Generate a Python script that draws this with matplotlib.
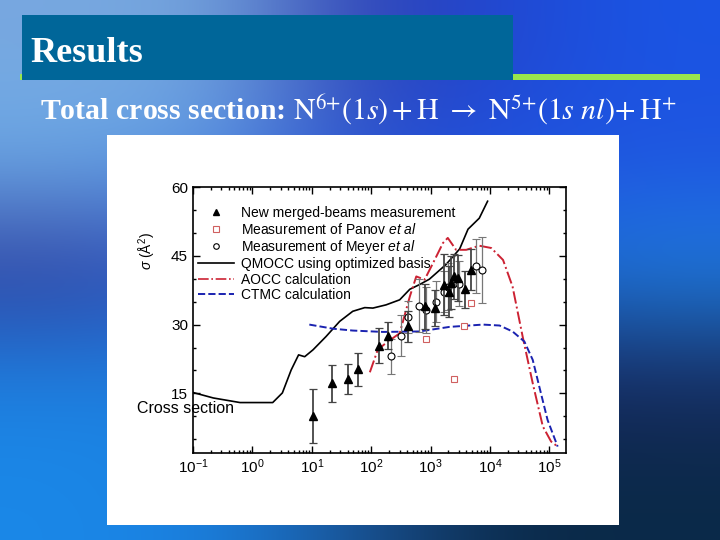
import matplotlib.pyplot as plt
from matplotlib.patches import Rectangle
from matplotlib.lines import Line2D
from matplotlib.ticker import MultipleLocator, FixedLocator, LogLocator, NullFormatter
import numpy as np

plt.rcParams['font.family'] = ['Liberation Sans', 'DejaVu Sans']
plt.rcParams['mathtext.fontset'] = 'custom'
plt.rcParams['mathtext.rm'] = 'Liberation Sans'
plt.rcParams['mathtext.it'] = 'Liberation Sans:italic'

# QMOCC using optimized basis
qmocc_e = [0.1, 0.22, 0.62, 1.0, 2.2, 3.2, 4.5, 6.0, 7.6, 10.5, 17.4, 29.5, 49, 78, 107,
           178, 302, 447, 646, 955, 1820, 3090, 4270, 6610, 9120]
qmocc_s = [15.2, 14.0, 13.0, 13.0, 13.0, 15.1, 20.1, 23.4, 23.0, 24.5, 27.4, 30.7, 32.9, 33.7, 33.6,
           34.3, 35.4, 37.7, 38.7, 39.9, 43.1, 46.5, 50.8, 53.2, 56.9]

# AOCC calculation
aocc_e = [95, 129, 178, 302, 447, 575, 794, 1100, 1620, 1950, 2690, 3980, 6610, 10500,
          16600, 24000, 35500, 52500, 77600, 107000, 138000]
aocc_s = [19.6, 24.5, 26.0, 28.1, 36.1, 40.5, 39.8, 43.4, 47.8, 48.9, 46.3, 46.3, 47.2, 46.7,
          44.1, 38.3, 27.4, 17.2, 7.8, 4.5, 3.4]

# CTMC calculation
ctmc_e = [9.1, 22.9, 49, 158, 646, 2090, 7590, 14500, 24000, 38000, 52500, 67600, 93300, 138000]
ctmc_s = [30.0, 29.1, 28.7, 28.4, 28.5, 29.5, 30.0, 29.8, 28.5, 26.3, 22.3, 16.5, 9.2, 3.4]

# New merged-beams measurement
new_e = [10.5, 21.9, 40.7, 60.3, 135, 191, 417, 794, 1200, 1660, 2040, 2240, 2510, 2880, 3800, 4790]
new_s = [10.1, 17.2, 18.1, 20.3, 25.4, 27.6, 29.6, 34.0, 33.6, 38.7, 37.2, 39.1, 40.5, 40.2, 37.7, 42.0]
new_err = [5.9, 4.0, 3.3, 3.6, 3.8, 3.0, 3.4, 4.9, 4.0, 6.7, 5.5, 5.8, 5.0, 5.0, 4.0, 4.5]

# Meyer et al
meyer_e = [214, 316, 417, 631, 851, 1230, 1660, 1950, 3020, 5890, 7410]
meyer_s = [23.1, 27.6, 31.6, 34.1, 33.2, 35.0, 37.2, 38.3, 38.9, 42.7, 42.0]
meyer_err = [3.8, 4.5, 3.5, 5.8, 5.0, 4.4, 4.5, 5.2, 4.9, 5.9, 7.2]

# Panov et al
panov_e = [851, 2450, 3720, 4790]
panov_s = [26.8, 18.2, 29.6, 34.8]

fig = plt.figure(figsize=(7.2, 5.4), dpi=100)

# slide background
bg = fig.add_axes([0, 0, 1, 1])
bg_cols = np.array([
    [[0x78, 0xa8, 0xe0], [0x74, 0xa4, 0xdc], [0x30, 0x40, 0xb0], [0x20, 0x48, 0xd4], [0x1a, 0x55, 0xe4]],
    [[0x6a, 0xaa, 0xe8], [0x5a, 0x9b, 0xe8], [0x28, 0x50, 0xd0], [0x20, 0x50, 0xe0], [0x20, 0x55, 0xe0]],
    [[0x30, 0x3c, 0x9c], [0x30, 0x50, 0xc0], [0x2a, 0x50, 0xd0], [0x1e, 0x70, 0xd8], [0x1e, 0x80, 0xe0]],
    [[0x1e, 0x80, 0xe0], [0x1e, 0x80, 0xe0], [0x20, 0x60, 0xc0], [0x18, 0x24, 0x60], [0x18, 0x2a, 0x60]],
    [[0x1a, 0x88, 0xe8], [0x1a, 0x80, 0xe0], [0x1a, 0x50, 0x90], [0x0a, 0x2a, 0x48], [0x0a, 0x2a, 0x48]],
]) / 255.0
bg.imshow(bg_cols, extent=[0, 1, 0, 1], aspect='auto', interpolation='bicubic', origin='upper')
bg.set_xlim(0, 1)
bg.set_ylim(0, 1)
bg.axis('off')

# title bar
bg.add_patch(Rectangle((0.028, 0.852), 0.944, 0.011, facecolor='#99e64d', edgecolor='none'))
bg.add_patch(Rectangle((0.031, 0.852), 0.681, 0.12, facecolor='#006699', edgecolor='none'))
bg.text(0.042, 0.9, 'Results', color='white', fontsize=26, fontweight='bold',
        family=['Liberation Serif', 'DejaVu Serif'], va='center')
sub = bg.text(0.055, 0.797,
              r'Total cross section: $\mathrm{N}^{6{+}}(1\mathit{s})+\mathrm{H}\ \rightarrow\ '
              r'\mathrm{N}^{5{+}}(1\mathit{s\ nl})\!+\mathrm{H}^{{+}}$',
              color='white', fontsize=21.5, fontweight='bold',
              family=['Liberation Serif', 'DejaVu Serif'], va='center')
sub.set_math_fontfamily('stix')

# white panel holding the chart
bg.add_patch(Rectangle((0.1486, 0.0278), 0.711, 0.722, facecolor='white', edgecolor='none'))

ax = fig.add_axes([0.268, 0.1611, 0.518, 0.4926])
ax.set_xscale('log')

ax.errorbar(meyer_e, meyer_s, yerr=meyer_err, fmt='o', mfc='white', mec='black', ms=5,
            mew=0.8, ecolor='#777777', elinewidth=0.9, capsize=3, capthick=0.9, zorder=3)
ax.errorbar(new_e, new_s, yerr=new_err, fmt='^', color='black', ms=5.5,
            ecolor='#444444', elinewidth=1.3, capsize=3, capthick=0.9, zorder=4)
ax.plot(panov_e, panov_s, 's', mfc='white', mec='#d06060', ms=4, mew=0.8, zorder=3)
ax.plot(qmocc_e, qmocc_s, '-', color='black', lw=1.2, zorder=2)
ax.plot(aocc_e, aocc_s, '-.', color='#cc2233', lw=1.4, zorder=2)
ax.plot(ctmc_e, ctmc_s, '--', color='#1a22b0', lw=1.4, zorder=2)

ax.set_xlim(0.1, 1.9e5)
ax.set_ylim(2, 60)
ax.yaxis.set_major_locator(FixedLocator([15, 30, 45, 60]))
ax.yaxis.set_minor_locator(MultipleLocator(5))
ax.xaxis.set_major_locator(LogLocator(base=10, numticks=12))
ax.xaxis.set_minor_locator(LogLocator(base=10, subs=np.arange(2, 10), numticks=12))
ax.xaxis.set_minor_formatter(NullFormatter())
ax.tick_params(which='both', direction='in', top=True, right=True, labelsize=11, width=1)
ax.tick_params(which='major', length=5)
ax.tick_params(which='minor', length=2.5)
for s in ax.spines.values():
    s.set_linewidth(1.2)

handles = [
    Line2D([], [], ls='none', marker='^', color='black', ms=5),
    Line2D([], [], ls='none', marker='s', mfc='white', mec='#d06060', ms=4, mew=0.8),
    Line2D([], [], ls='none', marker='o', mfc='white', mec='black', ms=4, mew=0.8),
    Line2D([], [], color='black', lw=1.2),
    Line2D([], [], color='#cc2233', lw=1.2, ls='-.'),
    Line2D([], [], color='#1a22b0', lw=1.4, ls='--'),
]
labels = ['New merged-beams measurement',
          r'Measurement of Panov $\it{et\ al}$',
          r'Measurement of Meyer $\it{et\ al}$',
          'QMOCC using optimized basis',
          'AOCC calculation',
          'CTMC calculation']
ax.legend(handles, labels, loc='upper left', bbox_to_anchor=(-0.02, 0.975), frameon=False,
          fontsize=10, handlelength=2.6, handletextpad=0.5, labelspacing=0.1)

# garbled axis title as it appears on the slide
fig.text(0.205, 0.535, r'$\sigma$ (Å$^{2}$)', rotation=90, fontsize=10, va='center', ha='center')
fig.text(0.19, 0.243, 'Cross section', fontsize=11.5, va='center', ha='left')

fig.savefig('out.png', dpi=100)
